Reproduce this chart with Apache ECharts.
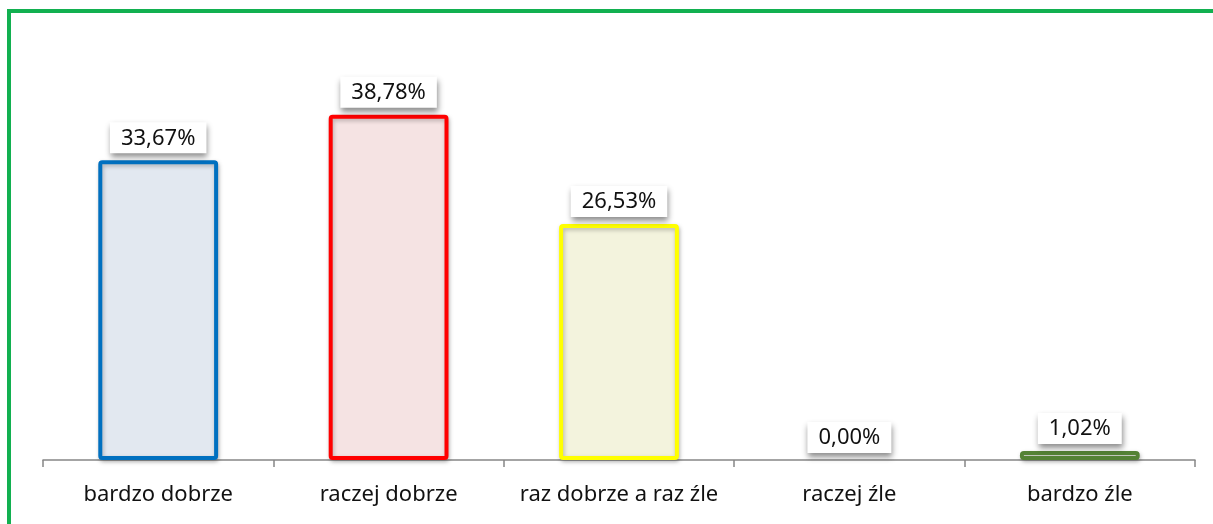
<!DOCTYPE html>
<html>
<head>
<meta charset="utf-8">
<script src="https://cdn.jsdelivr.net/npm/echarts@6/dist/echarts.min.js"></script>
<style>
    html, body { margin: 0; padding: 0; background: #fff; overflow: hidden; }
    .frame {
        position: absolute; left: 7px; top: 9px; width: 1300px; height: 600px;
        border-left: 4px solid #12B050; border-top: 4px solid #12B050;
    }
    .chart { position: absolute; left: 0; top: 0; width: 1213px; height: 524px; }
</style>
</head>
<body>
<div class="frame"></div>
<div class="chart"></div>
<script>
// dane
var categories = ['bardzo dobrze', 'raczej dobrze', 'raz dobrze a raz źle', 'raczej źle', 'bardzo źle'];
var values = [33.67, 38.78, 26.53, 0.00, 1.02];

// kolory słupków
var borderColors = ['#0070C0', '#FF0000', '#FFFF00', '#7F7F7F', '#548235'];
var fillColors = ['#E2E8F0', '#F5E3E3', '#F3F3DD', '#F2F2F2', '#EEF4E6'];

var myChart = echarts.init(document.querySelector('.chart'));

var option = {
    animation: false,
    grid: {
        left: 43,
        right: 18,
        top: 104,
        bottom: 64
    },
    xAxis: {
        type: 'category',
        data: categories,
        axisLine: { lineStyle: { color: '#868686', width: 1.5 } },
        axisTick: { show: true, interval: 0, length: 7, lineStyle: { color: '#868686', width: 1.5 } },
        axisLabel: {
            interval: 0,
            color: '#111',
            fontSize: 22,
            fontFamily: 'Noto Sans',
            margin: 24
        }
    },
    yAxis: {
        type: 'value',
        min: 0,
        max: 40,
        show: false,
        splitLine: { show: false }
    },
    series: [{
        type: 'bar',
        barWidth: '52%',
        data: values.map(function (v, i) {
            return {
                value: v,
                itemStyle: {
                    color: fillColors[i],
                    borderColor: borderColors[i],
                    borderWidth: v > 0 ? 4 : 0,
                    borderRadius: 2,
                    shadowColor: 'rgba(0,0,0,0.25)',
                    shadowBlur: v > 0 ? 4 : 0,
                    shadowOffsetX: 1,
                    shadowOffsetY: 2
                }
            };
        }),
        label: {
            show: true,
            position: 'top',
            distance: 7,
            color: '#111',
            fontSize: 22,
            fontFamily: 'Noto Sans',
            backgroundColor: '#fff',
            padding: [5, 11, 4, 11],
            shadowColor: 'rgba(0,0,0,0.45)',
            shadowBlur: 6,
            shadowOffsetX: 1,
            shadowOffsetY: 4,
            formatter: function (p) {
                return p.value.toFixed(2).replace('.', ',') + '%';
            }
        }
    }]
};

myChart.setOption(option);
</script>
</body>
</html>
